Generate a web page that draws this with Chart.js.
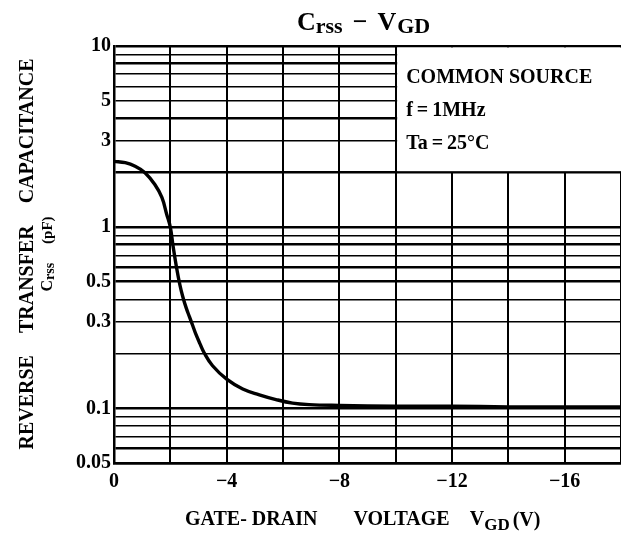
<!DOCTYPE html>
<html>
<head>
<meta charset="utf-8">
<style>
  html, body { margin: 0; padding: 0; background: #fff; }
  #wrap { width: 621px; height: 537px; }
</style>
<script src="https://cdn.jsdelivr.net/npm/chart.js@4/dist/chart.umd.min.js"></script>
</head>
<body>
<div id="wrap"><canvas id="crssChart" width="621" height="537"></canvas></div>
<script>
// Crss - VGD curve
const vgd = [0, -0.4, -0.75, -1.1, -1.45, -1.7, -1.87, -2.0, -2.1, -2.22, -2.34, -2.44, -2.56,
    -2.68, -2.8, -2.91, -3.05, -3.2, -3.5, -4.0, -4.57, -5.16, -5.75, -6.34, -6.93, -8, -10, -12, -14, -16, -18];
const crss = [2.31, 2.27, 2.17, 2.0, 1.72, 1.46, 1.18, 1.0, 0.78, 0.60, 0.48, 0.415, 0.36,
    0.32, 0.285, 0.256, 0.228, 0.203, 0.172, 0.145, 0.128, 0.119, 0.112, 0.107, 0.105, 0.104, 0.103, 0.103, 0.102, 0.102, 0.102];

const xGrid = [-18, -16, -14, -12, -10, -8, -6, -4, -2, 0];
const xLabels = [0, -4, -8, -12, -16];
const yGrid = [0.05, 0.06, 0.07, 0.08, 0.09, 0.1, 0.2, 0.3, 0.4, 0.5, 0.6, 0.7, 0.8, 0.9,
    1, 2, 3, 4, 5, 6, 7, 8, 9, 10];
const yLabels = [0.05, 0.1, 0.3, 0.5, 1, 3, 5, 10];
const heavyY = [0.05, 0.06, 0.1, 0.5, 0.6, 0.8, 1, 2, 4, 8, 10];

const conditions = ['COMMON SOURCE', 'f\u2009=\u20091MHz', 'Ta\u2009=\u200925\u00b0C'];

const SERIF = '"Liberation Serif", "Times New Roman", serif';
const font = (size) => 'bold ' + size + 'px ' + SERIF;

// draws runs of [text, size, baselineShift, gapAfter] left to right
function drawRuns(ctx, runs, x, y) {
    runs.forEach(function (r) {
        ctx.font = font(r[1]);
        ctx.fillText(r[0], x, y + r[2]);
        x += ctx.measureText(r[0]).width + (r[3] || 0);
    });
}
function runsWidth(ctx, runs) {
    let w = 0;
    runs.forEach(function (r) {
        ctx.font = font(r[1]);
        w += ctx.measureText(r[0]).width + (r[3] || 0);
    });
    return w;
}

const decorations = {
    id: 'decorations',
    beforeDatasetsDraw(chart) {
        const ctx = chart.ctx;
        const xs = chart.scales.x, ys = chart.scales.y;
        // white condition box in the upper right corner
        const left = xs.getPixelForValue(-10) + 1.5;
        const top = ys.getPixelForValue(10) + 1.5;
        const bottom = ys.getPixelForValue(2) - 1.5;
        ctx.save();
        ctx.fillStyle = '#fff';
        ctx.fillRect(left, top, chart.width - left, bottom - top);
        ctx.fillStyle = '#000';
        ctx.textBaseline = 'alphabetic';
        ctx.font = font(20);
        conditions.forEach(function (t, i) {
            ctx.fillText(t, left + 9, top + 35 + i * 33);
        });
        ctx.restore();
    },
    afterDraw(chart) {
        const ctx = chart.ctx;
        ctx.save();
        ctx.fillStyle = '#000';
        ctx.textBaseline = 'alphabetic';

        // title
        drawRuns(ctx, [['C', 26, 0, 0], ['rss', 22, 3, 10], ['\u2212', 26, 0, 10],
            ['V', 26, 0, 1], ['GD', 22, 3, 0]], 297, 30);

        // x axis title
        drawRuns(ctx, [['GATE- DRAIN', 20, 0, 36], ['VOLTAGE', 20, 0, 20],
            ['V', 20, 0, 0], ['GD', 17, 5, 3], ['(V)', 20, 1, 0]], 185, 525);

        // y axis title, rotated
        ctx.translate(33, 254);
        ctx.rotate(-Math.PI / 2);
        const line1 = [['REVERSE', 20, 0, 22], ['TRANSFER', 20, 0, 22], ['CAPACITANCE', 20, 0, 0]];
        drawRuns(ctx, line1, -runsWidth(ctx, line1) / 2, 0);
        const line2 = [['C', 16, 0, 0], ['rss', 14, 2, 19], ['(pF)', 15, 0, 0]];
        drawRuns(ctx, line2, -runsWidth(ctx, line2) / 2, 19);
        ctx.restore();
    }
};

const ctxCrss = document.getElementById('crssChart').getContext('2d');

const crssChart = new Chart(ctxCrss, {
    type: 'line',
    data: {
        datasets: [{
            label: 'Crss',
            data: vgd.map((v, i) => ({ x: v, y: crss[i] })),
            borderColor: '#000',
            borderWidth: 3.4,
            pointRadius: 0,
            fill: false,
            tension: 0.4
        }]
    },
    options: {
        responsive: false,
        animation: false,
        devicePixelRatio: 1,
        layout: { padding: { top: 46, left: 0, right: 0, bottom: 0 } },
        plugins: {
            legend: { display: false },
            title: { display: false },
            tooltip: { enabled: false }
        },
        scales: {
            x: {
                type: 'linear',
                min: -18,
                max: 0,
                reverse: true,
                afterBuildTicks: (scale) => { scale.ticks = xGrid.map(v => ({ value: v })); },
                afterFit: (scale) => { scale.height = 74; },
                ticks: {
                    autoSkip: false,
                    maxRotation: 0,
                    padding: 7,
                    color: '#000',
                    font: { family: SERIF, size: 20, weight: 'bold' },
                    callback: (v) => xLabels.includes(v) ? (v === 0 ? '0' : '\u2212' + Math.abs(v)) : ''
                },
                grid: { color: '#000', lineWidth: 2, drawTicks: false },
                border: { display: true, color: '#000', width: 2.5 }
            },
            y: {
                type: 'logarithmic',
                min: 0.05,
                max: 10,
                afterBuildTicks: (scale) => { scale.ticks = yGrid.map(v => ({ value: v })); },
                afterFit: (scale) => { scale.width = 114; },
                ticks: {
                    autoSkip: false,
                    padding: 3,
                    color: '#000',
                    font: { family: SERIF, size: 20, weight: 'bold' },
                    callback: (v) => yLabels.includes(v) ? String(v) : ''
                },
                grid: {
                    color: '#000',
                    drawTicks: false,
                    lineWidth: (c) => (c.tick && heavyY.includes(c.tick.value)) ? 2.6 : 1.4
                },
                border: { display: true, color: '#000', width: 2.5 }
            }
        }
    },
    plugins: [decorations]
});
</script>
</body>
</html>
